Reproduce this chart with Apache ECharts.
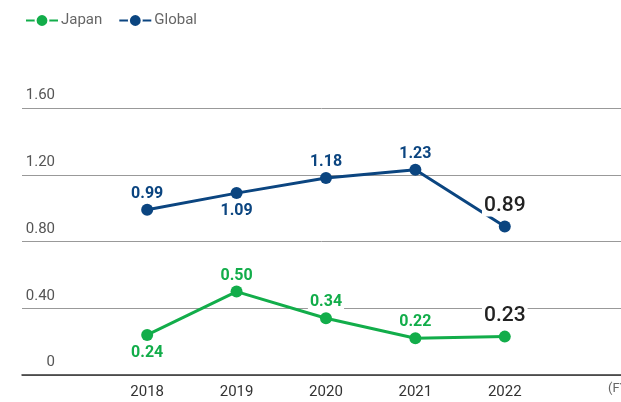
<!DOCTYPE html>
<html>
<head>
<meta charset="utf-8">
<script src="https://cdn.jsdelivr.net/npm/echarts@6/dist/echarts.min.js"></script>
<style>
  html, body { margin: 0; padding: 0; background: #fff; }
  #chart { width: 621px; height: 402px; }
</style>
</head>
<body>
<div id="chart"></div>
<script>
var years = [2018, 2019, 2020, 2021, 2022]
var japan = [0.24, 0.50, 0.34, 0.22, 0.23]
var global = [0.99, 1.09, 1.18, 1.23, 0.89]

// label above / below per point
var japanPos = ['bottom', 'top', 'top', 'top', 'top']
var globalPos = ['top', 'bottom', 'top', 'top', 'top']

var GREEN = '#12ad4a'
var NAVY = '#0b4580'
var FONT = 'Roboto, "Noto Sans", sans-serif'

function buildData (vals, pos, color) {
  return vals.map(function (v, i) {
    var last = i === vals.length - 1
    return {
      value: [years[i], v],
      label: {
        show: true,
        position: pos[i],
        distance: last ? 4 : (pos[i] === 'bottom' ? 4 : 2),
        formatter: function (p) { return p.value[1].toFixed(2) },
        color: last ? '#222' : color,
        fontSize: last ? 21 : 16,
        fontWeight: last ? 500 : 'bold',
        fontFamily: FONT,
        backgroundColor: '#fff',
        padding: [0, 2]
      }
    }
  })
}

var chart = echarts.init(document.getElementById('chart'))

chart.setOption({
  animation: false,
  textStyle: { fontFamily: FONT },
  legend: {
    left: 20,
    top: 8,
    itemGap: 16,
    itemWidth: 32,
    itemHeight: 16,
    textStyle: { color: '#666', fontSize: 15, fontFamily: FONT, padding: [0, 0, 0, -2] },
    itemStyle: { borderColor: '#fff', borderWidth: 2 },
    data: ['Japan', 'Global']
  },
  grid: { left: 22, right: 0, top: 108, bottom: 27, outerBoundsMode: 'none', containLabel: false },
  xAxis: {
    type: 'value',
    min: 2016.6,
    max: 2023.3,
    splitLine: { show: false },
    axisTick: { show: false },
    axisLine: { show: true, lineStyle: { color: '#333', width: 1.5 } },
    axisLabel: {
      customValues: years,
      formatter: function (v) { return String(v) },
      color: '#333',
      fontSize: 15,
      margin: 10
    },
    name: '(FY)',
    nameLocation: 'end',
    nameGap: -13,
    nameTextStyle: { color: '#666', fontSize: 13, verticalAlign: 'top', padding: [7, 0, 0, 0] }
  },
  yAxis: {
    type: 'value',
    min: 0,
    max: 1.6,
    interval: 0.4,
    axisLine: { show: false },
    axisTick: { show: false },
    splitLine: { show: true, lineStyle: { color: '#999', width: 1 } },
    axisLabel: {
      inside: true,
      margin: 33,
      align: 'right',
      verticalAlign: 'bottom',
      padding: [0, 0, 5, 0],
      color: '#555',
      fontSize: 15,
      formatter: function (v) { return v === 0 ? '0' : v.toFixed(2) }
    }
  },
  series: [
    {
      name: 'Japan',
      type: 'line',
      symbol: 'circle',
      symbolSize: 12,
      color: GREEN,
      lineStyle: { width: 3, color: GREEN },
      itemStyle: { color: GREEN },
      data: buildData(japan, japanPos, GREEN)
    },
    {
      name: 'Global',
      type: 'line',
      symbol: 'circle',
      symbolSize: 12,
      color: NAVY,
      lineStyle: { width: 3, color: NAVY },
      itemStyle: { color: NAVY },
      data: buildData(global, globalPos, NAVY)
    }
  ]
})
</script>
</body>
</html>
